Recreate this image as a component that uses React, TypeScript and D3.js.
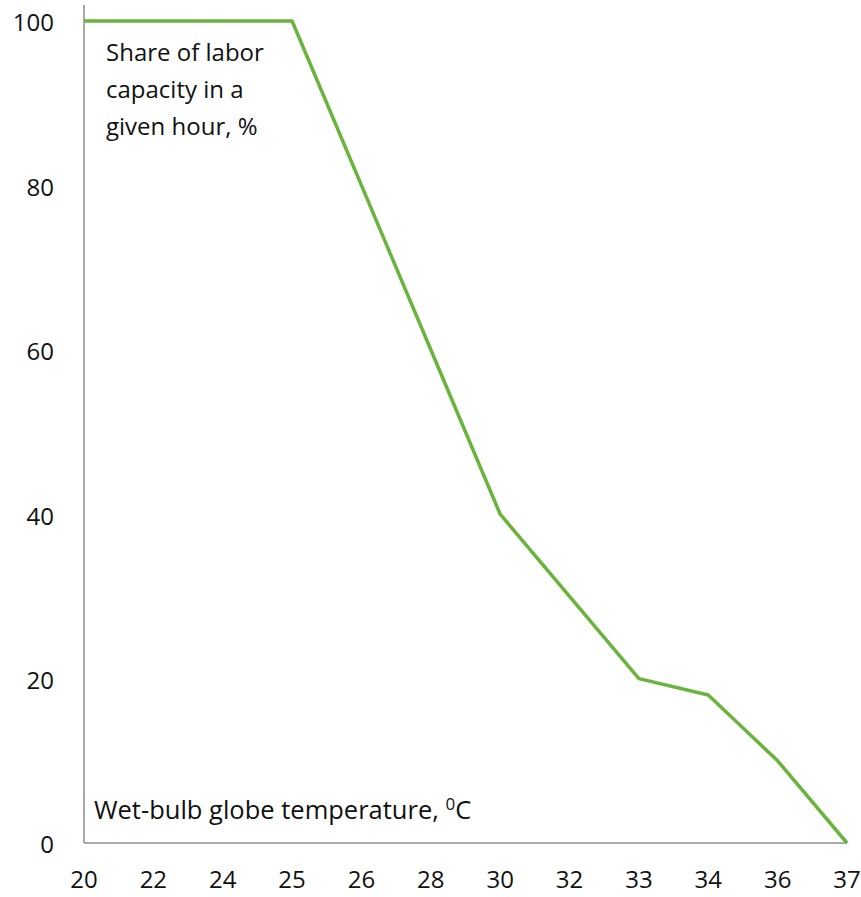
import React from "react";
import * as d3 from "d3";

const categories = ["20", "22", "24", "25", "26", "28", "30", "32", "33", "34", "36", "37"];
const capacity = [100, 100, 100, 100, 80, 60, 40, 30, 20, 18, 10, 0];
const yTicks = [0, 20, 40, 60, 80, 100];
const yTitle = ["Share of labor", "capacity in a", "given hour, %"];
const xTitle = "Wet-bulb globe temperature, ";

const W = 861;
const H = 897;
const font = "'Open Sans', 'Noto Sans', sans-serif";
const fs = 24;

export default function App() {
  const x = d3.scalePoint<string>().domain(categories).range([84, 847]);
  const y = d3.scaleLinear().domain([0, 100]).range([843, 21]);
  const line = d3
    .line<number>()
    .x((_, i) => x(categories[i]) as number)
    .y((d) => y(d));
  return (
    <svg width={W} height={H} style={{ position: "absolute", left: 0, top: 0, background: "#fff" }}>
      <line x1={84} x2={84} y1={5} y2={y(0)} stroke="#8c8c8c" strokeWidth={1.5} />
      <line x1={84} x2={847} y1={y(0)} y2={y(0)} stroke="#8c8c8c" strokeWidth={1.5} />
      {yTicks.map((t) => (
        <text key={t} x={54} y={y(t) + 2} dy="0.35em" textAnchor="end" fontFamily={font} fontSize={fs} fill="#111">
          {t}
        </text>
      ))}
      {categories.map((c) => (
        <text key={c} x={x(c) as number} y={880} dy="0.35em" textAnchor="middle" fontFamily={font} fontSize={fs} fill="#111">
          {c}
        </text>
      ))}
      <path d={line(capacity) ?? ""} fill="none" stroke="#6ab43e" strokeWidth={3.5} strokeLinejoin="round" />
      {yTitle.map((s, i) => (
        <text key={s} x={106} y={53 + i * 37} dy="0.35em" fontFamily={font} fontSize={fs} fill="#111">
          {s}
        </text>
      ))}
      <text x={94} y={810} dy="0.35em" fontFamily={font} fontSize={25.5} fill="#111">
        {xTitle}
        <tspan dy="-9" fontSize={17}>0</tspan>
        <tspan dy="9">C</tspan>
      </text>
    </svg>
  );
}
